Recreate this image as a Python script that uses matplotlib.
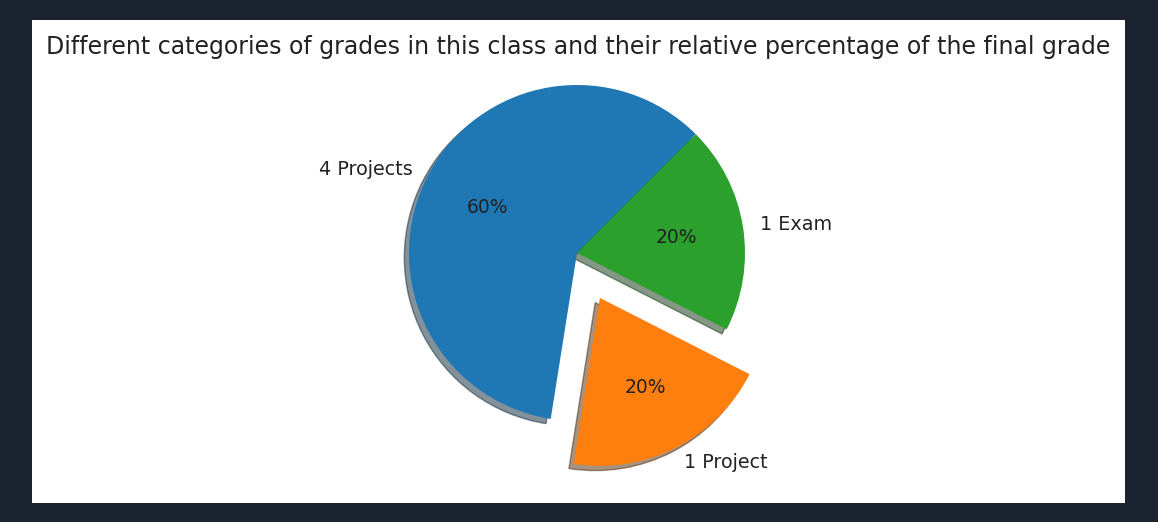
import matplotlib
matplotlib.use("Agg")
import matplotlib.pyplot as plt
from matplotlib.patches import Rectangle

labels = ["4 Projects", "1 Project", "1 Exam"]
weights = [60, 20, 20]
explode = [0, 0.3, 0]
title = "Different categories of grades in this class and their relative percentage of the final grade"

W, H = 1158, 522
fig = plt.figure(figsize=(W / 100, H / 100), dpi=100)
fig.patch.set_facecolor("#1b2330")
# white panel
fig.patches.append(Rectangle((32 / W, 1 - 503 / H), (1125 - 32) / W, (503 - 20) / H,
                             transform=fig.transFigure, facecolor="white",
                             edgecolor="none", zorder=-5))

cx, cy, r = 577, 253, 168
size = 2.5 * r
ax = fig.add_axes([(cx - size / 2) / W, (H - cy - size / 2) / H, size / W, size / H])
ax.set_zorder(2)
ax.patch.set_alpha(0)
wedges, texts, autotexts = ax.pie(weights, labels=labels, explode=explode, startangle=45,
                                  shadow=True, autopct="%1.0f%%",
                                  textprops={"fontsize": 13.8, "color": "#222222"})
for t in autotexts:
    t.set_fontsize(13.5)
ax.set_xlim(-1.25, 1.25)
ax.set_ylim(-1.25, 1.25)
fig.text(578 / W, 1 - 47 / H, title, ha="center", va="center", fontsize=17, color="#222222")
fig.savefig("out.png", dpi=100, facecolor=fig.get_facecolor())
